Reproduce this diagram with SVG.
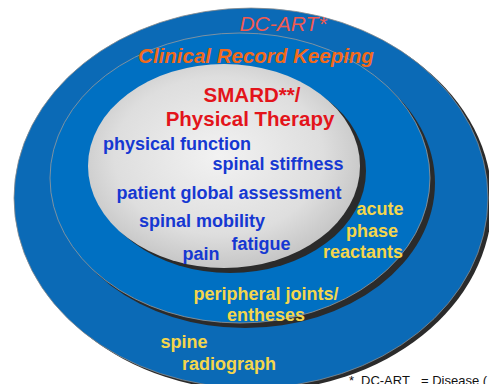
<svg xmlns="http://www.w3.org/2000/svg" width="489" height="384" viewBox="0 0 489 384">
<defs>
<radialGradient id="gInner" cx="0.48" cy="0.45" r="0.55">
<stop offset="0" stop-color="#f2f2f2"/>
<stop offset="0.7" stop-color="#dedede"/>
<stop offset="1" stop-color="#c6c6c6"/>
</radialGradient>
<style>
text{font-family:"Liberation Sans",Arial,sans-serif;}
.blue{fill:#1638d2;font-weight:bold;font-size:18px;}
.yel{fill:#f4d64c;font-weight:bold;font-size:18px;}
.shadow{fill:#2b2b2b;}
</style>
</defs>
<rect width="489" height="384" fill="#ffffff"/>
<g id="outer">
<ellipse class="shadow" cx="255" cy="201" rx="237" ry="190"/>
<ellipse cx="251" cy="198" rx="237" ry="190" fill="#0b6ab6" stroke="#8a8a8a" stroke-width="0.8"/>
<text x="283" y="31" font-size="21" font-style="italic" fill="#f25a50" text-anchor="middle">DC-ART*</text>
<text class="yel" x="184" y="348" text-anchor="middle">spine</text>
<text class="yel" x="229" y="370" text-anchor="middle">radiograph</text>
</g>
<g id="middle">
<ellipse class="shadow" cx="245" cy="183" rx="190" ry="145"/>
<ellipse cx="240" cy="178" rx="190" ry="145" fill="#0070c2" stroke="#9a9a9a" stroke-width="0.8"/>
<text x="256" y="63" font-size="20.5" font-weight="bold" font-style="italic" fill="#f26a1b" text-anchor="middle">Clinical Record Keeping</text>
<text class="yel" x="380" y="215" text-anchor="middle">acute</text>
<text class="yel" x="372" y="237" text-anchor="middle">phase</text>
<text class="yel" x="363" y="258" text-anchor="middle">reactants</text>
<text class="yel" x="266" y="300" text-anchor="middle">peripheral joints/</text>
<text class="yel" x="266" y="321" text-anchor="middle">entheses</text>
</g>
<g id="inner">
<ellipse class="shadow" cx="230" cy="171" rx="136" ry="102"/>
<ellipse cx="224" cy="166" rx="136" ry="102" fill="url(#gInner)"/>
<text x="252" y="102" font-size="20.5" font-weight="bold" fill="#e3141b" text-anchor="middle">SMARD**/</text>
<text x="250" y="126" font-size="20.5" font-weight="bold" fill="#e3141b" text-anchor="middle">Physical Therapy</text>
<text class="blue" x="177" y="150" text-anchor="middle">physical function</text>
<text class="blue" x="278" y="170" text-anchor="middle">spinal stiffness</text>
<text class="blue" x="229" y="199" text-anchor="middle">patient global assessment</text>
<text class="blue" x="202" y="227" text-anchor="middle">spinal mobility</text>
<text class="blue" x="261" y="250" text-anchor="middle">fatigue</text>
<text class="blue" x="201" y="260" text-anchor="middle">pain</text>
</g>
<g id="footnote">
<text y="385" font-size="13" fill="#111111"><tspan x="349">*</tspan><tspan x="361">DC-ART</tspan><tspan x="421">= Disease (</tspan></text>
</g>
<g id="connectors"/>
</svg>
